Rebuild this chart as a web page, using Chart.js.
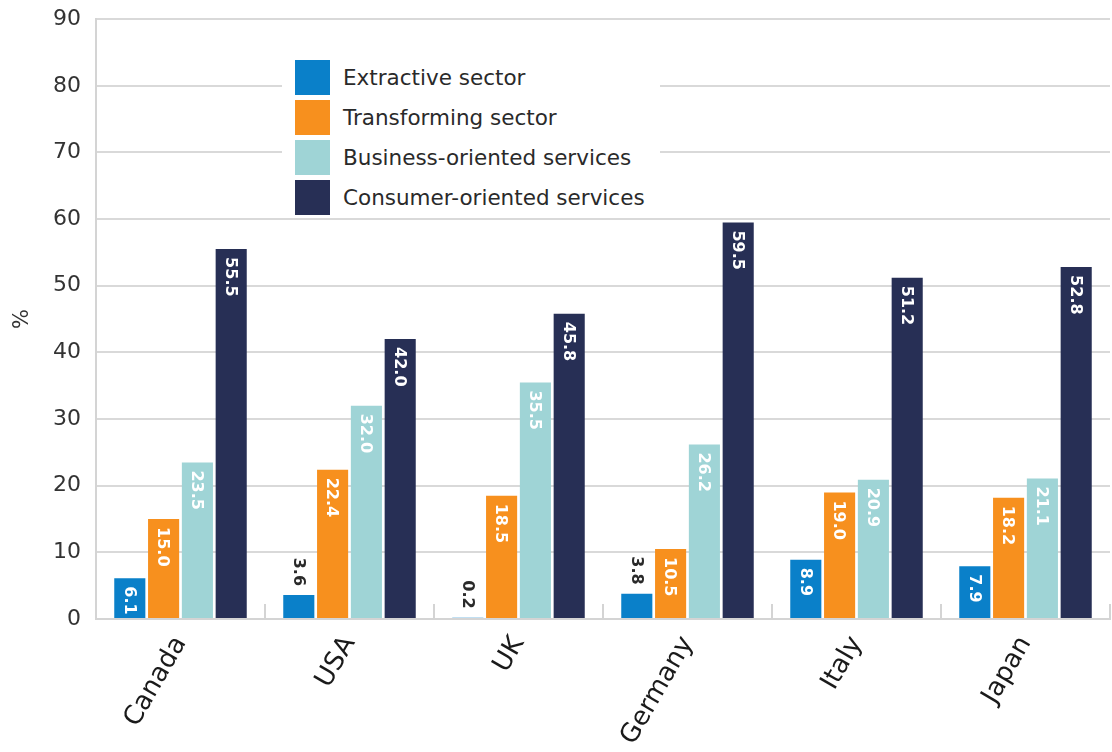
<!DOCTYPE html>
<html>
<head>
<meta charset="utf-8">
<script src="https://cdn.jsdelivr.net/npm/chart.js@4"></script>
<style>
    html, body { margin: 0; padding: 0; background: #fff; overflow: hidden; }
    #wrap { position: relative; width: 1112px; height: 752px; overflow: hidden; }
    #sectorChart { position: absolute; left: 0; top: -9px; }
    #legend {
        position: absolute; left: 282px; top: 52px; width: 378px; height: 166px;
        background: #fff; box-sizing: border-box; padding: 5px 0 0 13px;
        font-family: "DejaVu Sans", sans-serif; font-size: 21.5px; color: #2a2a2a;
    }
    .item { display: flex; align-items: center; height: 40px; white-space: nowrap; }
    .swatch { width: 35px; height: 35px; margin-right: 13px; flex: none; }
</style>
</head>
<body>
<div id="wrap">
    <canvas id="sectorChart" width="1112" height="761"></canvas>
    <div id="legend"></div>
</div>
<script>
// Datos
const countries = ['Canada', 'USA', 'UK', 'Germany', 'Italy', 'Japan'];
const seriesNames = ['Extractive sector', 'Transforming sector', 'Business-oriented services', 'Consumer-oriented services'];
const seriesColors = ['#0a80c9', '#f7901e', '#9fd4d6', '#272f55'];
const extractive = [6.1, 3.6, 0.2, 3.8, 8.9, 7.9];
const transforming = [15.0, 22.4, 18.5, 10.5, 19.0, 18.2];
const businessServices = [23.5, 32.0, 35.5, 26.2, 20.9, 21.1];
const consumerServices = [55.5, 42.0, 45.8, 59.5, 51.2, 52.8];
const yTicks = [0, 10, 20, 30, 40, 50, 60, 70, 80, 90];

const seriesValues = [extractive, transforming, businessServices, consumerServices];
const FONT = '"DejaVu Sans", sans-serif';

// Leyenda HTML sobre el área del gráfico
const legendEl = document.getElementById('legend');
seriesNames.forEach((name, i) => {
    legendEl.innerHTML += `<div class="item"><div class="swatch" style="background:${seriesColors[i]}"></div>${name}</div>`;
});

// Etiquetas de valor giradas 90°
const barLabels = {
    id: 'barLabels',
    afterDatasetsDraw(chart) {
        const ctx = chart.ctx;
        ctx.save();
        ctx.font = 'bold 16px ' + FONT;
        ctx.textBaseline = 'middle';
        chart.data.datasets.forEach((ds, di) => {
            chart.getDatasetMeta(di).data.forEach((bar, i) => {
                const text = ds.data[i].toFixed(1);
                const w = ctx.measureText(text).width;
                const h = bar.base - bar.y;
                ctx.save();
                if (h > w + 10) {
                    ctx.translate(bar.x, bar.y + 8);
                    ctx.rotate(Math.PI / 2);
                    ctx.textAlign = 'left';
                    ctx.fillStyle = '#ffffff';
                } else {
                    ctx.translate(bar.x, bar.y - 9);
                    ctx.rotate(Math.PI / 2);
                    ctx.textAlign = 'right';
                    ctx.fillStyle = '#2a2a2a';
                }
                ctx.fillText(text, 0, 1);
                ctx.restore();
            });
        });
        ctx.restore();
    }
};

// Marcas cortas entre categorías sobre el eje X
const categoryTicks = {
    id: 'categoryTicks',
    beforeDatasetsDraw(chart) {
        const ctx = chart.ctx;
        const x = chart.scales.x;
        const bottom = chart.chartArea.bottom;
        ctx.save();
        ctx.strokeStyle = '#d4d4d4';
        ctx.lineWidth = 2;
        for (let i = 1; i <= countries.length; i++) {
            const px = Math.round(x.getPixelForValue(i - 0.5));
            ctx.beginPath();
            ctx.moveTo(px, bottom);
            ctx.lineTo(px, bottom - 15);
            ctx.stroke();
        }
        ctx.restore();
    }
};

new Chart(document.getElementById('sectorChart').getContext('2d'), {
    type: 'bar',
    data: {
        labels: countries,
        datasets: seriesNames.map((name, i) => ({
            label: name,
            data: seriesValues[i],
            backgroundColor: seriesColors[i],
            borderWidth: 0,
            categoryPercentage: 0.8,
            barPercentage: 0.92
        }))
    },
    options: {
        responsive: false,
        animation: false,
        layout: { padding: { top: 6, right: 2, left: 10, bottom: 0 } },
        plugins: {
            legend: { display: false },
            tooltip: { enabled: false }
        },
        scales: {
            x: {
                grid: { display: false },
                border: { color: '#d4d4d4', width: 2 },
                ticks: {
                    color: '#1a1a1a',
                    font: { family: FONT, size: 26 },
                    minRotation: 60,
                    maxRotation: 60,
                    padding: 4
                },
                afterFit(scale) { scale.height = 133; }
            },
            y: {
                min: 0,
                max: 90,
                afterBuildTicks(scale) { scale.ticks = yTicks.map(v => ({ value: v })); },
                grid: { color: '#d9d9d9', lineWidth: 2, drawTicks: false },
                border: { color: '#d4d4d4', width: 2 },
                ticks: {
                    color: '#333333',
                    font: { family: FONT, size: 22 },
                    padding: 15
                },
                title: {
                    display: true,
                    text: '%',
                    color: '#333333',
                    font: { family: FONT, size: 21 },
                    padding: 0
                },
                afterFit(scale) { scale.width = 86; }
            }
        }
    },
    plugins: [barLabels, categoryTicks]
});
</script>
</body>
</html>
